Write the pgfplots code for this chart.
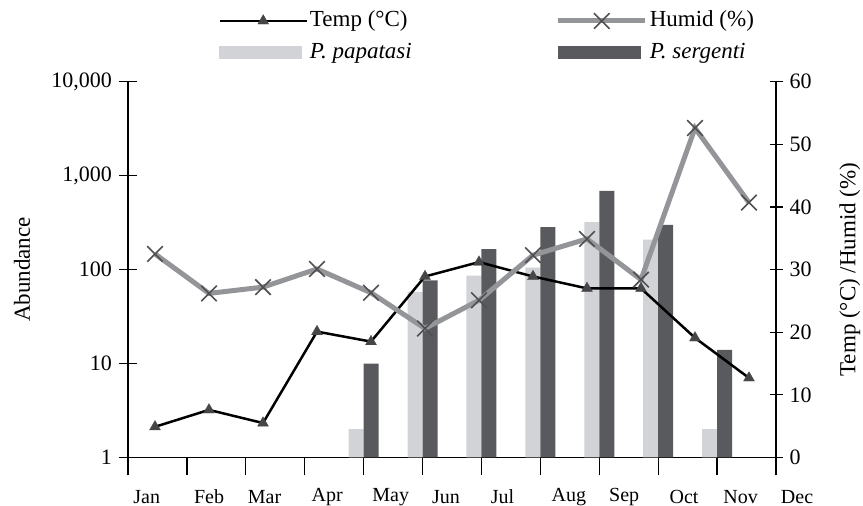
\documentclass[border=0pt]{standalone}
\usepackage{fontspec}
\setmainfont{Liberation Serif}
\usepackage{pgfplots}
\pgfplotsset{compat=1.18}
\definecolor{lightbar}{RGB}{209,211,214}
\definecolor{darkbar}{RGB}{88,90,93}
\definecolor{humidline}{RGB}{147,149,152}
\definecolor{markgray}{RGB}{80,80,82}
\definecolor{tmark}{RGB}{70,70,72}
\pgfplotsset{
  myline legend/.style={legend image code/.code={\draw[##1, mark indices={2}] plot coordinates {(0pt,0pt) (21.75pt,0pt) (43.5pt,0pt)};}},
  lightbar legend/.style={legend image code/.code={\fill[lightbar] (0pt,-3pt) rectangle (41pt,3pt);}},
  darkbar legend/.style={legend image code/.code={\fill[darkbar] (0pt,-3pt) rectangle (41pt,3pt);}},
}
\begin{document}
\begin{tikzpicture}
\path[use as bounding box] (0,0) rectangle (431.5pt,253pt);
\begin{axis}[
  at={(64pt,24.25pt)}, anchor=south west,
  scale only axis, width=324pt, height=187.9pt,
  font=\fontsize{11.5}{13.8}\selectfont,
  ymode=log, log basis y=10, ymin=1, ymax=10000,
  xmin=0, xmax=11,
  axis x line=bottom, axis y line=left,
  axis line style={-, black, line width=0.6pt},
  every tick/.style={black, line width=0.6pt},
  xtick={0,...,11}, xticklabels={},
  ytick={1,10,100,1000,10000},
  yticklabels={1,10,100,{1,000},{10,000}},
  yminorticks=false,
  tick align=center, major tick length=9pt,
  yticklabel style={font=\fontsize{11}{13}\selectfont},
  ylabel={Abundance},
  ylabel style={at={(axis description cs:-0.1636,0.5)}, anchor=center},
  ybar, bar width=7.5pt,
]
\addplot[fill=lightbar, draw=none, bar shift=-3.75pt] coordinates {(4,2) (5,58) (6,86) (7,105) (8,320) (9,209) (10,2)};
\addplot[fill=darkbar, draw=none, bar shift=3.75pt] coordinates {(4,10) (5,77) (6,165) (7,283) (8,689) (9,300) (10,14)};
\end{axis}
\begin{axis}[
  at={(64pt,24.25pt)}, anchor=south west,
  scale only axis, width=324pt, height=187.9pt,
  font=\fontsize{11.5}{13.8}\selectfont,
  xmin=0, xmax=12, ymin=0, ymax=60,
  axis x line=none, axis y line=right,
  axis line style={-, black, line width=0.6pt},
  every tick/.style={black, line width=0.6pt},
  ytick={0,10,20,30,40,50,60},
  yticklabels={0,10,20,30,40,50,60},
  tick align=center, major tick length=6.5pt,
  yticklabel style={font=\fontsize{11}{13}\selectfont},
  ylabel={Temp (°C) /Humid (\%)},
  ylabel style={at={(axis description cs:1.114,0.5)}, anchor=center, rotate=0},
  clip=false,
  legend columns=2,
  legend cell align=left,
  legend style={at={(axis description cs:0.139,1.2)}, anchor=north west,
    draw=none, fill=none, inner sep=0pt,
    font=\fontsize{11.5}{13.8}\selectfont,
    nodes={inner sep=1pt, text height=9pt, text depth=3pt},
    row sep=1.7pt,
    /tikz/every even column/.append style={column sep=71pt}},
]
\addplot[black, line width=1.25pt, mark=triangle*, mark size=3.2pt,
  mark options={fill=tmark, draw=tmark, line width=0.1pt}, myline legend]
  coordinates {(0.5,4.9) (1.5,7.6) (2.5,5.5) (3.5,20.1) (4.5,18.5) (5.5,28.9) (6.5,31.2) (7.5,28.9) (8.5,27.0) (9.5,27.0) (10.5,19.1) (11.5,12.7)};
\addplot[humidline, line width=2.5pt, mark=x, mark size=5.5pt,
  mark options={draw=markgray, line width=0.8pt}, myline legend]
  coordinates {(0.5,32.5) (1.5,26.2) (2.5,27.2) (3.5,30.1) (4.5,26.3) (5.5,20.6) (6.5,25.1) (7.5,32.3) (8.5,34.9) (9.5,28.4) (10.5,52.6) (11.5,40.7)};
\addlegendimage{lightbar legend}
\addlegendimage{darkbar legend}
\legend{Temp (°C), Humid (\%), \textit{P. papatasi}, \textit{P. sergenti}}
\begin{scope}[every node/.style={font=\fontsize{10}{12}\selectfont, anchor=center}]
\node at (axis cs:0.346,-6.3) {Jan};
\node at (axis cs:1.5,-6.3) {Feb};
\node at (axis cs:2.528,-6.3) {Mar};
\node at (axis cs:3.69,-6.3) {Apr};
\node at (axis cs:4.865,-6.3) {May};
\node at (axis cs:5.89,-6.3) {Jun};
\node at (axis cs:6.935,-6.3) {Jul};
\node at (axis cs:8.163,-6.3) {Aug};
\node at (axis cs:9.189,-6.3) {Sep};
\node at (axis cs:10.298,-6.3) {Oct};
\node at (axis cs:11.344,-6.3) {Nov};
\node at (axis cs:12.39,-6.3) {Dec};
\end{scope}
\end{axis}
\end{tikzpicture}
\end{document}
